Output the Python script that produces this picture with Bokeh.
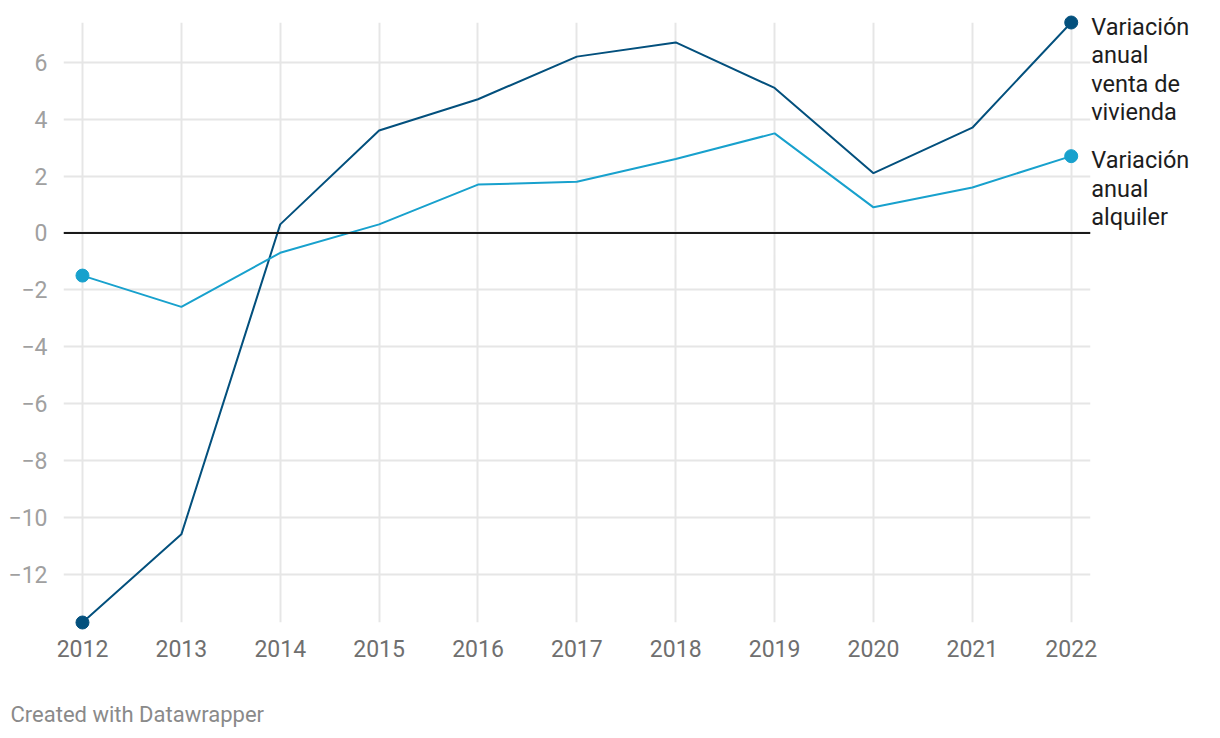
from bokeh.plotting import figure
from bokeh.models import ColumnDataSource, Span, FixedTicker, Range1d
from bokeh.core.properties import value
from bokeh.embed import file_html
from bokeh.resources import INLINE

years = [2012, 2013, 2014, 2015, 2016, 2017, 2018, 2019, 2020, 2021, 2022]
venta = [-13.7, -10.6, 0.3, 3.6, 4.7, 6.2, 6.7, 5.1, 2.1, 3.7, 7.4]
alquiler = [-1.5, -2.6, -0.7, 0.3, 1.7, 1.8, 2.6, 3.5, 0.9, 1.6, 2.7]
y_ticks = [-12, -10, -8, -6, -4, -2, 0, 2, 4, 6]
series_names = ["Variación\nanual\nventa de\nvivienda", "Variación\nanual\nalquiler"]
series_colors = ["#03507d", "#18a1cd"]
credit = "Created with Datawrapper"

FONT = "Roboto"
X0, X1 = 2011.808, 2022.195
Y0, Y1 = -13.7, 7.4

p = figure(width=1220, height=738, output_backend="svg", toolbar_location=None,
           x_range=Range1d(X0, X1), y_range=Range1d(Y0, Y1),
           min_border_left=63, min_border_right=130, min_border_top=22, min_border_bottom=116)
p.outline_line_color = None
p.background_fill_color = "white"
p.border_fill_color = "white"

# grids
p.xgrid.ticker = FixedTicker(ticks=years)
p.ygrid.ticker = FixedTicker(ticks=y_ticks)
for g in (p.xgrid, p.ygrid):
    g.grid_line_color = "#e6e6e6"
    g.grid_line_width = 2

# axes
xa = p.xaxis[0]
xa.ticker = FixedTicker(ticks=years)
xa.axis_line_color = None
xa.major_tick_line_color = None
xa.minor_tick_line_color = None
xa.major_label_text_font = FONT
xa.major_label_text_font_size = "23px"
xa.major_label_text_color = "#6f6f6f"
xa.major_label_standoff = 11
xa.major_label_overrides = {y: str(y) for y in years}

ya = p.yaxis[0]
ya.ticker = FixedTicker(ticks=y_ticks)
ya.axis_line_color = None
ya.major_tick_line_color = None
ya.minor_tick_line_color = None
ya.major_label_text_font = FONT
ya.major_label_text_font_size = "23px"
ya.major_label_text_color = "#a0a0a0"
ya.major_label_standoff = 10
ya.major_label_overrides = {t: (("\u2212" + str(abs(t))) if t < 0 else str(t)) for t in y_ticks}

# zero line
p.add_layout(Span(location=0, dimension="width", line_color="#1a1a1a", line_width=2))

for vals, name, col in zip([venta, alquiler], series_names, series_colors):
    src = ColumnDataSource(dict(x=years, y=vals))
    p.line("x", "y", source=src, line_color=col, line_width=2)
    end_src = ColumnDataSource(dict(x=[years[0], years[-1]], y=[vals[0], vals[-1]]))
    r = p.scatter("x", "y", source=end_src, size=13, fill_color=col, line_color=col)
    r.level = "overlay"
    lab_src = ColumnDataSource(dict(x=[years[-1]], y=[vals[-1]], t=[name]))
    t = p.text("x", "y", text="t", source=lab_src, x_offset=20, y_offset=-10,
               text_font=value(FONT), text_font_size="23.5px", text_color="#1d1d1d",
               text_baseline="top", text_align="left", text_line_height=1.02)
    t.level = "overlay"

csrc = ColumnDataSource(dict(x=[X0], y=[Y0], t=[credit]))
c = p.text("x", "y", text="t", source=csrc, x_offset=-53, y_offset=92,
           text_font=value(FONT), text_font_size="22px", text_color="#8a8a8a",
           text_baseline="middle", text_align="left")
c.level = "overlay"

open("out.html", "w").write(file_html(p, INLINE))
